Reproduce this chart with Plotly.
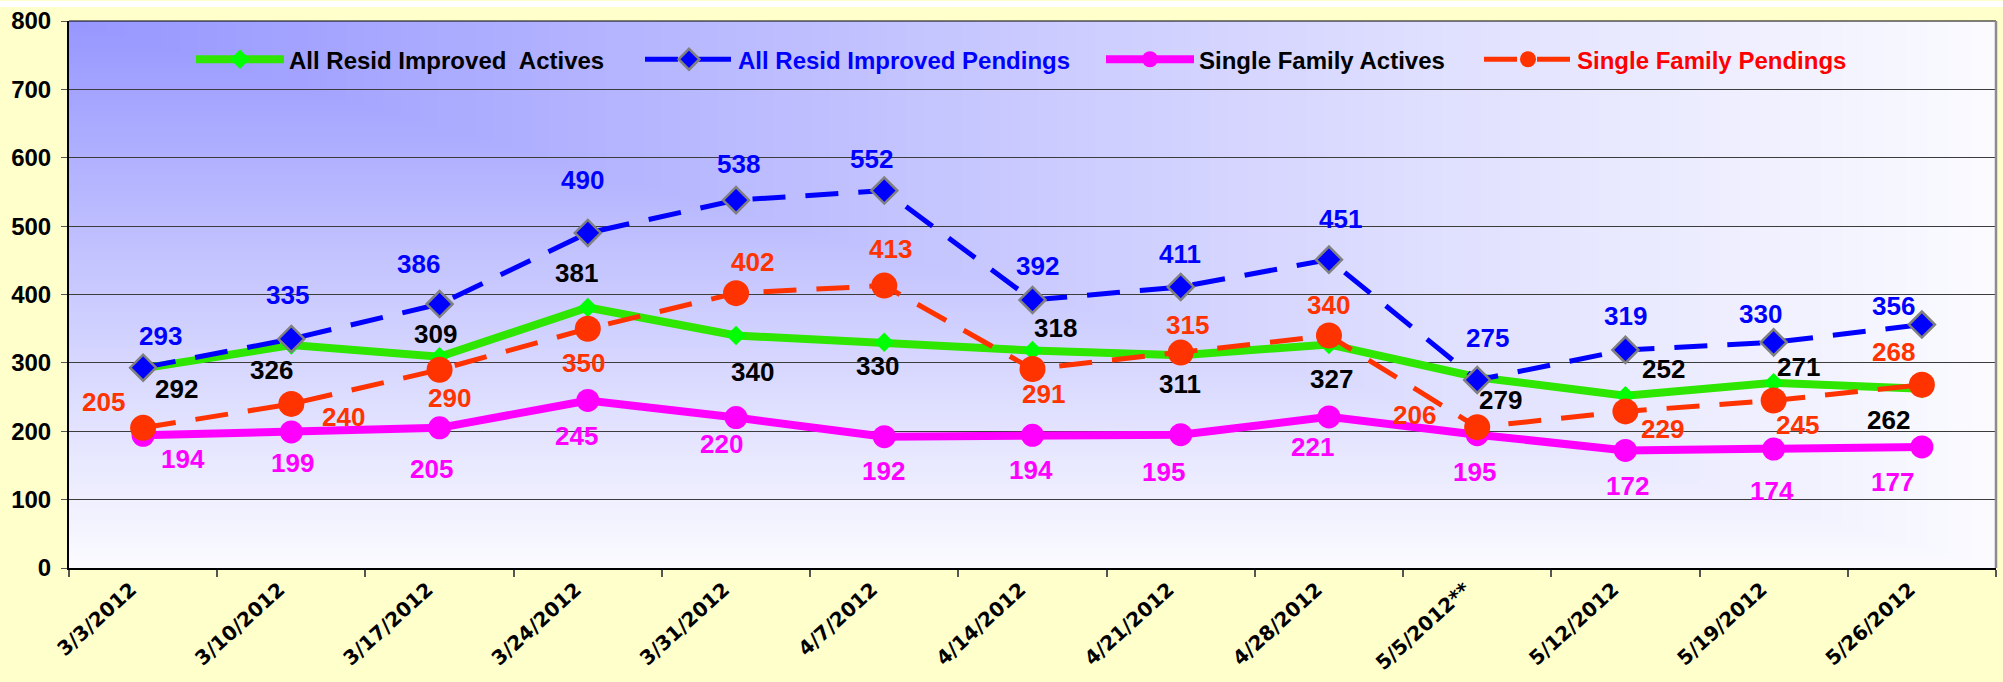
import base64
import struct
import zlib

import numpy as np
import plotly.graph_objects as go

# ---- data -------------------------------------------------------------
weeks = ["3/3/2012", "3/10/2012", "3/17/2012", "3/24/2012", "3/31/2012",
         "4/7/2012", "4/14/2012", "4/21/2012", "4/28/2012", "5/5/2012**",
         "5/12/2012", "5/19/2012", "5/26/2012"]

all_resid_actives = [292, 326, 309, 381, 340, 330, 318, 311, 327, 279, 252, 271, 262]
all_resid_pendings = [293, 335, 386, 490, 538, 552, 392, 411, 451, 275, 319, 330, 356]
sf_actives = [194, 199, 205, 245, 220, 192, 194, 195, 221, 195, 172, 174, 177]
sf_pendings = [205, 240, 290, 350, 402, 413, 291, 315, 340, 206, 229, 245, 268]

y_ticks = [0, 100, 200, 300, 400, 500, 600, 700, 800]

# ---- label placement (pixel offsets from each point: right, down) ----
off_all_act = [(33, 21), (-20, 25), (-4, -23), (-11, -34), (16, 36), (-7, 24), (23, -23),
               (-1, 29), (3, 35), (23, 23), (38, -27), (25, -16), (-33, 31)]
off_all_pend = [(17, -32), (-4, -44), (-21, -40), (-5, -53), (2, -36), (-13, -32), (5, -34),
                (-1, -33), (12, -41), (10, -42), (0, -34), (-13, -28), (-28, -19)]
off_sf_act = [(40, 24), (1, 31), (-8, 41), (-11, 36), (-15, 26), (-1, 34), (-2, 35),
              (-17, 37), (-16, 30), (-3, 37), (2, 36), (-2, 42), (-29, 35)]
off_sf_pend = [(-40, -26), (52, 13), (10, 28), (-4, 34), (16, -31), (6, -37), (11, 25),
               (7, -28), (0, -31), (-63, -12), (37, 18), (24, 25), (-28, -33)]

# ---- figure geometry --------------------------------------------------
W, H = 2003, 682
M_L, M_R, M_T, M_B = 69, 7, 18, 112
PW, PH = W - M_L - M_R, H - M_T - M_B


def gradient_png(w, h):
    """Blue-to-white corner gradient for the plot area, encoded as a PNG."""
    u = np.linspace(0.0, 1.0, w)[None, :]
    v = np.linspace(0.0, 1.0, h)[:, None]
    t = np.maximum(u, v)
    tint = 100.0 * (1.0 - t) ** 1.05
    r = np.clip(251 - tint, 0, 255)
    b = np.full_like(r, 255.0)
    img = np.stack([r, r, b], axis=-1).astype(np.uint8)
    raw = b"".join(b"\x00" + img[i].tobytes() for i in range(h))

    def chunk(tag, data):
        return (struct.pack(">I", len(data)) + tag + data
                + struct.pack(">I", zlib.crc32(tag + data) & 0xFFFFFFFF))

    png = (b"\x89PNG\r\n\x1a\n"
           + chunk(b"IHDR", struct.pack(">IIBBBBB", w, h, 8, 2, 0, 0, 0))
           + chunk(b"IDAT", zlib.compress(raw, 9))
           + chunk(b"IEND", b""))
    return "data:image/png;base64," + base64.b64encode(png).decode()


LABEL_FONT = "Liberation Sans, Arial, sans-serif"
TICK_FONT = "DejaVu Sans, Verdana, sans-serif"

series = [
    dict(name="All Resid Improved\u00a0 Actives", y=all_resid_actives, offs=off_all_act,
         line=dict(color="#2EE600", width=8), dash="solid",
         marker=dict(symbol="diamond", size=15, color="#00FF00"),
         label_color="#000000", legend="legend", text_color="#000000"),
    dict(name="All Resid Improved Pendings", y=all_resid_pendings, offs=off_all_pend,
         line=dict(color="#0000FF", width=5), dash="33px,20px",
         marker=dict(symbol="diamond", size=20, color="#0000FF",
                     line=dict(color="#808080", width=2.5)),
         label_color="#0000FF", legend="legend2", text_color="#0000FF"),
    dict(name="Single Family Actives", y=sf_actives, offs=off_sf_act,
         line=dict(color="#FF00FF", width=8), dash="solid",
         marker=dict(symbol="circle", size=23, color="#FF00FF"),
         label_color="#FF00FF", legend="legend3", text_color="#000000"),
    dict(name="Single Family Pendings", y=sf_pendings, offs=off_sf_pend,
         line=dict(color="#FF3300", width=5), dash="33px,20px",
         marker=dict(symbol="circle", size=26, color="#FF3300"),
         label_color="#FF3300", legend="legend4", text_color="#FF0000"),
]

fig = go.Figure()
annotations = []
for s in series:
    fig.add_trace(go.Scatter(
        x=weeks, y=s["y"], name=s["name"], mode="lines+markers",
        line=dict(color=s["line"]["color"], width=s["line"]["width"], dash=s["dash"]),
        marker=s["marker"], legend=s["legend"], hoverinfo="x+y+name",
    ))
    for wk, val, (dx, dy) in zip(weeks, s["y"], s["offs"]):
        annotations.append(dict(
            x=wk, y=val, text=str(val), showarrow=False,
            xshift=dx, yshift=-dy, xanchor="center", yanchor="middle",
            font=dict(family=LABEL_FONT, size=26, color=s["label_color"], weight="bold"),
        ))

# legend entries laid out across the top of the plot area
legend_starts = [196, 645, 1106, 1484]
legend_y = (M_T + PH - 57) / PH
legends = {}
for s, px in zip(series, legend_starts):
    legends[s["legend"]] = dict(
        x=(px - M_L - 5) / PW, y=legend_y, xanchor="left", yanchor="middle",
        orientation="h", bgcolor="rgba(0,0,0,0)", borderwidth=0,
        itemwidth=88, itemsizing="trace",
        font=dict(family=LABEL_FONT, size=24, color=s["text_color"], weight="bold"),
    )

shapes = [
    # top border of the plot area
    dict(type="line", xref="paper", yref="paper", x0=0, x1=1, y0=1, y1=1,
         line=dict(color="#000000", width=1)),
    # right border of the plot area
    dict(type="line", xref="paper", yref="paper", x0=1, x1=1, y0=0, y1=1,
         line=dict(color="#8C8C8C", width=2.5)),
    # thin white band across the very top of the page
    dict(type="rect", xref="paper", yref="paper", xsizemode="scaled",
         ysizemode="pixel", yanchor=1, y0=M_T - 4, y1=M_T + 2, x0=-0.1, x1=1.1,
         fillcolor="#FFFFFF", line=dict(width=0), layer="below"),
]

fig.update_layout(
    width=W, height=H,
    margin=dict(l=M_L, r=M_R, t=M_T, b=M_B, pad=0),
    paper_bgcolor="#FFFFCC",
    plot_bgcolor="rgba(0,0,0,0)",
    showlegend=True,
    annotations=annotations,
    shapes=shapes,
    images=[dict(source=gradient_png(PW, PH), xref="paper", yref="paper",
                 x=0, y=1, sizex=1, sizey=1, sizing="stretch",
                 xanchor="left", yanchor="top", layer="below")],
    xaxis=dict(
        type="category", categoryorder="array", categoryarray=weeks,
        range=[-0.5, len(weeks) - 0.5],
        showgrid=False, showline=True, linecolor="#000000", linewidth=2,
        ticks="outside", tickson="boundaries", ticklen=7, tickcolor="#555555",
        tickwidth=1.5, tickangle=-42, ticklabelshift=-12,
        tickfont=dict(family=TICK_FONT, size=20, color="#000000", weight="bold"),
    ),
    yaxis=dict(
        range=[0, 800], tickvals=y_ticks, showgrid=True, gridcolor="#3C3C3C",
        gridwidth=1, zeroline=False, showline=True, linecolor="#000000",
        linewidth=2, ticks="outside", ticklen=6, tickcolor="#555555",
        ticklabelstandoff=5,
        tickfont=dict(family=LABEL_FONT, size=24, color="#000000", weight="bold"),
    ),
    **legends,
)

fig.write_html("out.html")
